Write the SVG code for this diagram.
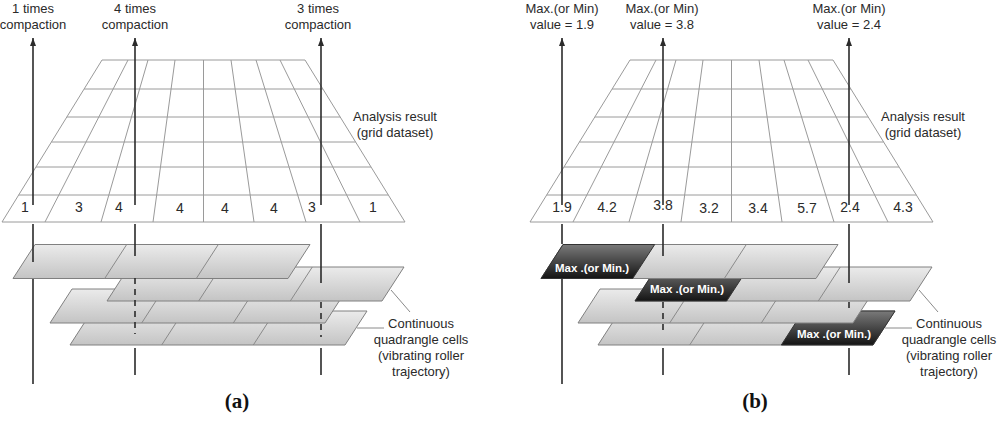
<svg xmlns="http://www.w3.org/2000/svg" width="1000" height="423" viewBox="0 0 1000 423">
<style>
text{font-family:"Liberation Sans",Arial,sans-serif;fill:#2a2a2a}
.lbl{font-size:13px;text-anchor:middle}
.num{font-size:14px;text-anchor:middle}
.mx{font-size:11.5px;font-weight:bold;fill:#fff;text-anchor:middle}
.cap{font-family:"Liberation Serif","Times New Roman",serif;font-size:21px;font-weight:bold;text-anchor:middle;fill:#111}
.grid{fill:#fff;stroke:#9a9a9a;stroke-width:1}
.gl{stroke:#9a9a9a;stroke-width:1;fill:none}
.strip{fill:url(#lg);stroke:#808080;stroke-width:1}
.dark{fill:url(#dg);stroke:#333;stroke-width:1}
.div{stroke:#8a8a8a;stroke-width:1}
.ax{stroke:#2b2b2b;stroke-width:1.6;fill:none}
.dash{stroke-dasharray:6 5}
.lead{stroke:#8a8a8a;stroke-width:1;fill:none}
</style>
<defs>
<linearGradient id="lg" x1="0" y1="0" x2="0" y2="1"><stop offset="0" stop-color="#ebebeb"/><stop offset="1" stop-color="#c4c4c4"/></linearGradient>
<linearGradient id="dg" x1="0" y1="0" x2="0" y2="1"><stop offset="0" stop-color="#7a7a7a"/><stop offset="1" stop-color="#141414"/></linearGradient>
<marker id="ah" markerWidth="8" markerHeight="6" refX="8" refY="3" orient="auto" markerUnits="userSpaceOnUse"><path d="M0,0 L8,3 L0,6 z" fill="#2b2b2b"/></marker>
</defs>
<rect width="1000" height="423" fill="#fff"/>

<!-- ===== Panel (a) ===== -->
<g id="panel-a">
<g id="grid-a">
<polygon class="grid" points="102,60 305,60 405,222 2,222"/>
<path class="gl" d="M84.1,89H322.9M66.8,117H340.2M51.4,142H355.6M36,167H371M18.7,195H388.3"/>
<path class="gl" d="M128,60L45,222M148,60L101,222M175,60L153,222M203.5,60V222M231,60L254,222M256,60L306,222M280,60L360,222"/>
<text class="num" x="25" y="212">1</text>
<text class="num" x="79" y="212">3</text>
<text class="num" x="119" y="212">4</text>
<text class="num" x="180" y="213">4</text>
<text class="num" x="225" y="213">4</text>
<text class="num" x="274" y="213">4</text>
<text class="num" x="312" y="212">3</text>
<text class="num" x="373" y="212">1</text>
</g>
<g id="label-grid-a"><text class="lbl" x="395" y="121">Analysis result</text><text class="lbl" x="395" y="137">(grid dataset)</text></g>
<g id="strips-a">
<g id="strip-a-d"><polygon class="strip" points="70,345 345,345 367,311 92,311"/><path class="div" d="M161.7,345l22,-34M253.3,345l22,-34"/></g>
<g id="strip-a-c"><polygon class="strip" points="50,323 325,323 347,289 72,289"/><path class="div" d="M141.7,323l22,-34M233.3,323l22,-34"/></g>
<g id="strip-a-b"><polygon class="strip" points="107,301 382,301 404,267 129,267"/><path class="div" d="M198.7,301l22,-34M290.3,301l22,-34"/></g>
<g id="strip-a-a"><polygon class="strip" points="13,278.5 288,278.5 310,244.5 35,244.5"/><path class="div" d="M104.7,278.5l22,-34M196.3,278.5l22,-34"/></g>
</g>
<g id="label-cells-a"><text class="lbl" x="421" y="328">Continuous</text><text class="lbl" x="421" y="344">quadrangle cells</text><text class="lbl" x="421" y="360">(vibrating roller</text><text class="lbl" x="421" y="376">trajectory)</text></g>
<g id="labels-top-a">
<text class="lbl" x="33" y="12.5">1 times</text><text class="lbl" x="33" y="29">compaction</text>
<text class="lbl" x="135" y="12.5">4 times</text><text class="lbl" x="135" y="29">compaction</text>
<text class="lbl" x="318" y="12.5">3 times</text><text class="lbl" x="318" y="29">compaction</text>
</g>
<text class="cap" x="237" y="408">(a)</text>
</g>

<g id="connectors-a">
<path class="lead" d="M410,312L391,290M384,328H357"/>
<line class="ax" x1="33" y1="205" x2="33" y2="38" marker-end="url(#ah)"/>
<path class="ax" d="M33,224V262M33,279V384"/>
<line class="ax" x1="135" y1="205" x2="135" y2="38" marker-end="url(#ah)"/>
<path class="ax" d="M135,224V256M135,348V375"/>
<path class="ax dash" d="M135,278V334"/>
<line class="ax" x1="321" y1="205" x2="321" y2="38" marker-end="url(#ah)"/>
<path class="ax" d="M321,224V283M321,348V375"/>
<path class="ax dash" d="M321,302V337"/>
</g>

<!-- ===== Panel (b) ===== -->
<g id="panel-b" transform="translate(528,0)">
<g id="grid-b">
<polygon class="grid" points="102,60 305,60 405,222 2,222"/>
<path class="gl" d="M84.1,89H322.9M66.8,117H340.2M51.4,142H355.6M36,167H371M18.7,195H388.3"/>
<path class="gl" d="M128,60L45,222M148,60L101,222M175,60L153,222M203.5,60V222M231,60L254,222M256,60L306,222M280,60L360,222"/>
<text class="num" x="34" y="212">1.9</text>
<text class="num" x="79" y="212">4.2</text>
<text class="num" x="135" y="210">3.8</text>
<text class="num" x="181" y="213">3.2</text>
<text class="num" x="230" y="213">3.4</text>
<text class="num" x="279" y="213">5.7</text>
<text class="num" x="322" y="212">2.4</text>
<text class="num" x="375" y="212">4.3</text>
</g>
<g id="label-grid-b"><text class="lbl" x="395" y="121">Analysis result</text><text class="lbl" x="395" y="137">(grid dataset)</text></g>
<g id="strips-b">
<g id="strip-b-d"><polygon class="strip" points="70,345 345,345 367,311 92,311"/><polygon class="dark" points="253.3,345 345,345 367,311 275.3,311"/><path class="div" d="M161.7,345l22,-34"/></g>
<g id="strip-b-c"><polygon class="strip" points="50,323 325,323 347,289 72,289"/><path class="div" d="M141.7,323l22,-34M233.3,323l22,-34"/></g>
<g id="strip-b-b"><polygon class="strip" points="107,301 382,301 404,267 129,267"/><polygon class="dark" points="107,301 198.7,301 220.7,267 129,267"/><path class="div" d="M290.3,301l22,-34"/></g>
<g id="strip-b-a"><polygon class="strip" points="13,278.5 288,278.5 310,244.5 35,244.5"/><polygon class="dark" points="13,278.5 104.7,278.5 126.7,244.5 35,244.5"/><path class="div" d="M196.3,278.5l22,-34"/></g>
</g>
<g id="label-cells-b"><text class="lbl" x="421" y="328">Continuous</text><text class="lbl" x="421" y="344">quadrangle cells</text><text class="lbl" x="421" y="360">(vibrating roller</text><text class="lbl" x="421" y="376">trajectory)</text></g>
<g id="labels-top-b">
<text class="lbl" x="34" y="12.5">Max.(or Min)</text><text class="lbl" x="34" y="29">value = 1.9</text>
<text class="lbl" x="134" y="12.5">Max.(or Min)</text><text class="lbl" x="134" y="29">value = 3.8</text>
<text class="lbl" x="321" y="12.5">Max.(or Min)</text><text class="lbl" x="321" y="29">value = 2.4</text>
</g>
<text class="cap" x="227" y="408">(b)</text>
</g>

<g id="connectors-b" transform="translate(528,0)">
<path class="lead" d="M410,312L391,290M384,328H357"/>
<line class="ax" x1="34" y1="205" x2="34" y2="38" marker-end="url(#ah)"/>
<path class="ax" d="M34,224V244M34,279V384"/>
<line class="ax" x1="135" y1="205" x2="135" y2="38" marker-end="url(#ah)"/>
<path class="ax" d="M135,224V256M135,348V375"/>
<path class="ax dash" d="M135,302V334"/>
<line class="ax" x1="321" y1="205" x2="321" y2="38" marker-end="url(#ah)"/>
<path class="ax" d="M321,224V283M321,348V375"/>
<path class="ax dash" d="M321,302V312"/>
</g>

<g id="max-labels" transform="translate(528,0)">
<text class="mx" x="64" y="272">Max .(or Min.)</text>
<text class="mx" x="159" y="293">Max .(or Min.)</text>
<text class="mx" x="306" y="338">Max .(or Min.)</text>
</g>
</svg>
